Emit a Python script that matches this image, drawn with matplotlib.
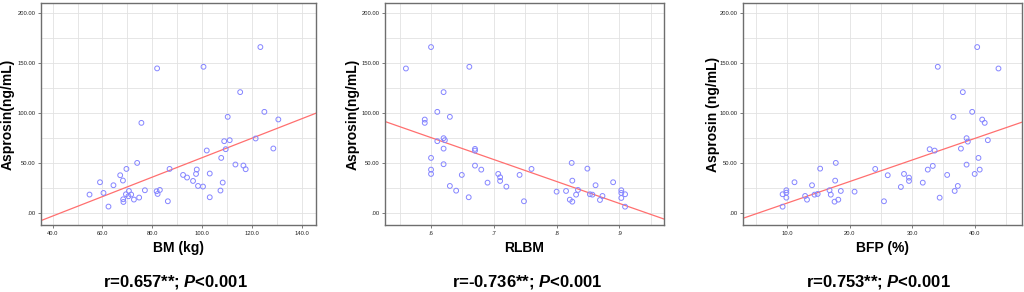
"""Asprosin vs body composition: three scatter panels with fitted lines."""

import matplotlib

matplotlib.use("Agg")
import matplotlib.pyplot as plt
from matplotlib.ticker import MultipleLocator, FuncFormatter

plt.rcParams["font.family"] = ["Liberation Sans", "DejaVu Sans"]
plt.rcParams["mathtext.fontset"] = "custom"
plt.rcParams["mathtext.rm"] = "Liberation Sans"
plt.rcParams["mathtext.it"] = "Liberation Sans:italic"
plt.rcParams["mathtext.bf"] = "Liberation Sans:bold"
plt.rcParams["mathtext.bfit"] = "Liberation Sans:italic:bold"

# --- data ------------------------------------------------------------------
bm_kg = [81.9, 75.6, 73.9, 69.6, 86.9, 67.1, 68.2, 59.0, 64.4, 54.8, 60.4, 62.4, 70.6,
         69.4, 71.5, 70.4, 68.3, 68.4, 72.6, 74.7, 77.0, 81.7, 82.1, 83.0, 86.2,
         123.3, 100.5, 115.2, 124.9, 110.2, 130.5, 108.8, 111.0, 121.4, 101.8, 109.4,
         128.5, 107.6, 113.3, 116.5, 117.4, 97.8, 92.3, 93.9, 97.5, 103.0, 96.3, 108.2,
         98.3, 100.3, 107.3, 103.0]
asprosin_bm = [144.7, 90.3, 50.3, 44.3, 44.3, 38.0, 32.7, 31.0, 28.0, 18.7, 20.3, 6.7, 22.3,
               19.0, 18.7, 17.0, 14.0, 11.3, 13.7, 15.7, 23.0, 22.0, 19.3, 23.3, 12.0,
               166.0, 146.3, 121.0, 101.3, 96.3, 93.7, 72.0, 73.0, 74.7, 62.7, 64.0,
               64.7, 55.3, 48.7, 47.7, 44.0, 43.7, 38.3, 35.7, 39.3, 39.7, 32.3, 30.7,
               27.3, 26.7, 22.7, 16.0]

rlbm = [0.600, 0.560, 0.661, 0.620, 0.610, 0.630, 0.590, 0.590, 0.620, 0.622, 0.610,
        0.620, 0.670, 0.670, 0.600, 0.620, 0.670, 0.680, 0.600, 0.600, 0.649, 0.690,
        0.630, 0.640, 0.660, 0.707, 0.710, 0.710, 0.720, 0.741, 0.748,
        0.760, 0.824, 0.849, 0.825, 0.800, 0.815, 0.834, 0.831, 0.821, 0.825, 0.862,
        0.853, 0.857, 0.873, 0.869, 0.890, 0.903, 0.903, 0.909, 0.903, 0.909]
asprosin_rlbm = [166.0, 144.6, 146.3, 121.0, 101.3, 96.3, 93.6, 90.3, 75.0, 73.0, 72.0,
                 64.6, 64.3, 62.6, 55.3, 49.0, 47.6, 43.6, 43.6, 39.3, 38.3, 30.6,
                 27.3, 22.6, 16.0, 39.3, 36.0, 32.3, 26.6, 38.3, 12.0,
                 44.3, 50.3, 44.6, 32.6, 21.6, 22.3, 23.3, 18.6, 13.6, 11.6, 28.0,
                 19.0, 18.6, 17.3, 13.3, 31.0, 23.0, 20.3, 19.0, 15.3, 6.6]

bfp_pct = [17.8, 15.3, 24.1, 17.7, 11.2, 14.0, 9.9, 9.9, 9.3, 9.9, 9.3, 12.9, 13.2, 14.4,
           14.9, 16.8, 17.0, 18.6, 20.8, 17.6, 18.2,
           40.4, 34.1, 43.8, 38.1, 39.6, 36.6, 41.2, 41.6, 38.7, 38.9, 42.1, 37.8, 32.8,
           33.6, 40.6, 38.7, 33.3, 40.8, 32.5, 40.0, 26.1, 28.7, 35.6, 29.5, 29.5, 31.7,
           28.2, 37.3, 36.8, 34.4, 25.5]
asprosin_bfp = [50.3, 44.6, 44.3, 32.6, 31.0, 28.0, 23.0, 20.6, 19.0, 15.6, 6.6, 17.3,
                13.6, 18.6, 19.3, 23.0, 18.6, 22.3, 21.6, 11.6, 13.6,
                166.0, 146.3, 144.6, 121.0, 101.3, 96.3, 93.6, 90.3, 75.0, 71.6, 73.0,
                64.6, 64.0, 62.6, 55.3, 48.6, 47.3, 43.6, 43.6, 39.3, 38.0, 39.3, 38.3,
                35.6, 32.3, 30.6, 26.3, 27.3, 22.3, 15.6, 12.0]

# fitted line (slope, intercept)
fit_bm = (0.973, -41.7)
fit_rlbm = (-219.2, 207.1)
fit_bfp = (2.153, -11.4)

x_labels = ["BM (kg)", "RLBM", "BFP (%)"]
y_labels = ["Asprosin(ng/mL)", "Asprosin(ng/mL)", "Asprosin (ng/mL)"]
stats = [r"r=0.657**; $\mathbfit{P}$<0.001",
         r"r=-0.736**; $\mathbfit{P}$<0.001",
         r"r=0.753**; $\mathbfit{P}$<0.001"]

panels = [
    (bm_kg, asprosin_bm, fit_bm, (35.35, 145.6), 20.0, 10.0, "{:.1f}"),
    (rlbm, asprosin_rlbm, fit_rlbm, (0.5267, 0.971), 0.1, 0.05, "rlbm"),
    (bfp_pct, asprosin_bfp, fit_bfp, (2.97, 47.56), 10.0, 5.0, "{:.1f}"),
]

# axes rectangles in figure fraction (left, bottom, width, height)
rects = [
    (41 / 1024, 67 / 292, 275 / 1024, 222 / 292),
    (385 / 1024, 67 / 292, 279 / 1024, 222 / 292),
    (743 / 1024, 67 / 292, 279 / 1024, 222 / 292),
]
ylabel_x = [-0.12, -0.115, -0.108]
stat_x = [175 / 1024, 527 / 1024, 878 / 1024]


def _y_fmt(v, _pos):
    s = f"{v:.2f}"
    return s[1:] if s.startswith("0") else s


def _rlbm_fmt(v, _pos):
    s = f"{v:.1f}"
    return s[1:] if s.startswith("0") else s


fig = plt.figure(figsize=(10.24, 2.92), dpi=100)

for i, (xs, ys, fit, xlim, major, minor, fmt) in enumerate(panels):
    ax = fig.add_axes(rects[i])
    ax.set_xlim(*xlim)
    ax.set_ylim(-11.7, 210)

    ax.xaxis.set_major_locator(MultipleLocator(major))
    ax.xaxis.set_minor_locator(MultipleLocator(minor))
    ax.yaxis.set_major_locator(MultipleLocator(50))
    ax.yaxis.set_minor_locator(MultipleLocator(25))
    ax.yaxis.set_major_formatter(FuncFormatter(_y_fmt))
    if fmt == "rlbm":
        ax.xaxis.set_major_formatter(FuncFormatter(_rlbm_fmt))
    else:
        ax.xaxis.set_major_formatter(FuncFormatter(lambda v, _p: f"{v:.1f}"))

    ax.grid(which="both", color="#e2e2e2", linewidth=0.6, zorder=0)
    ax.set_axisbelow(True)
    ax.tick_params(which="major", direction="out", length=2.5, width=0.6,
                   color="#666666", labelsize=4.2, pad=1.5, labelcolor="#222222")
    ax.tick_params(which="minor", length=0)
    for sp in ax.spines.values():
        sp.set_color("#6e6e6e")
        sp.set_linewidth(1.0)

    ax.scatter(xs, ys, s=12, facecolors="none", edgecolors="#8585ff",
               linewidths=0.7, zorder=3)

    slope, intercept = fit
    ax.plot(list(xlim), [intercept + slope * xlim[0], intercept + slope * xlim[1]],
            color="#ff6f6f", linewidth=0.9, zorder=2)

    ax.set_xlabel(x_labels[i], fontsize=10, fontweight="bold", va="center")
    ax.xaxis.set_label_coords(0.5, -0.104)
    ax.set_ylabel(y_labels[i], fontsize=10, fontweight="bold", va="center")
    ax.yaxis.set_label_coords(ylabel_x[i], 0.5)

    fig.text(stat_x[i], 0.034, stats[i], ha="center", va="center",
             fontsize=12, fontweight="bold")

fig.savefig("out.png", dpi=100)
